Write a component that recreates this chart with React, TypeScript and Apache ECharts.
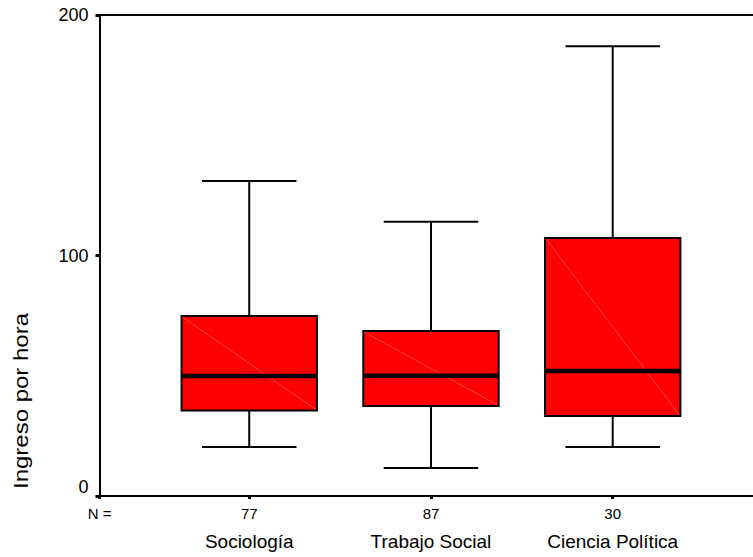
import React, { useEffect, useRef } from "react";
import * as echarts from "echarts";

const categories = ["Sociología", "Trabajo Social", "Ciencia Política"];
const counts = [77, 87, 30];
const lowWhisker = [20.4, 11.6, 20.4];
const q1 = [35.5, 37.4, 33.3];
const median = [49.9, 50.0, 52.0];
const q3 = [74.8, 68.6, 107.3];
const highWhisker = [131, 114, 187];
const yTicks = [0, 100, 200];

const X_MIN = 0.176;
const X_MAX = 3.772;
const FONT = "'Liberation Sans', Arial, Helvetica, sans-serif";

export default function App() {
  const ref = useRef<HTMLDivElement>(null);
  useEffect(() => {
    if (!ref.current) return;
    document.body.style.margin = "0";
    const chart = echarts.init(ref.current, undefined, { renderer: "svg" });
    const data = categories.map((_, i) => [i + 1, lowWhisker[i], q1[i], median[i], q3[i], highWhisker[i]]);
    const xValues = [X_MIN, 1, 2, 3];
    const xLabel = (v: number) => {
      const i = Math.round(v) - 1;
      if (Math.abs(v - X_MIN) < 0.01) return "{n|N =}";
      if (i >= 0 && i < categories.length && Math.abs(v - (i + 1)) < 0.01) {
        return `{n|${counts[i]}}\n{c|${categories[i]}}`;
      }
      return "";
    };
    const option: any = {
      animation: false,
      backgroundColor: "#ffffff",
      grid: { left: 99.5, right: 0, top: 15, bottom: 61, containLabel: false },
      xAxis: [
        {
          type: "value",
          min: X_MIN,
          max: X_MAX,
          position: "bottom",
          splitLine: { show: false },
          axisLine: { show: true, lineStyle: { color: "#000", width: 2 } },
          axisTick: {
            show: true,
            customValues: xValues,
            length: 3,
            lineStyle: { color: "#000", width: 3 },
          },
          axisLabel: {
            show: true,
            customValues: xValues,
            showMinLabel: true,
            margin: 5,
            formatter: xLabel,
            rich: {
              n: { fontSize: 15, fontFamily: FONT, color: "#000", lineHeight: 24 },
              c: { fontSize: 19, fontFamily: FONT, color: "#000", lineHeight: 33 },
            },
          },
        },
        {
          type: "value",
          min: X_MIN,
          max: X_MAX,
          position: "top",
          splitLine: { show: false },
          axisLine: { show: true, lineStyle: { color: "#000", width: 2 } },
          axisTick: { show: false },
          axisLabel: { show: false },
        },
      ],
      yAxis: {
        type: "value",
        min: 0,
        max: 200,
        interval: 100,
        splitLine: { show: false },
        axisLine: { show: true, lineStyle: { color: "#000", width: 2 } },
        axisTick: { show: true, length: 4, lineStyle: { color: "#000", width: 3 } },
        axisLabel: {
          show: true,
          margin: 11,
          formatter: (v: number) => (yTicks.indexOf(v) === 0 ? `{z|${v}}` : `{t|${v}}`),
          rich: {
            t: { fontSize: 18, fontFamily: FONT, color: "#000" },
            z: { fontSize: 18, fontFamily: FONT, color: "#000", padding: [0, 0, 18, 0] },
          },
        },
      },
      graphic: [
        {
          type: "text",
          x: 21,
          y: 401,
          rotation: Math.PI / 2,
          scaleX: 1.2,
          style: {
            text: "Ingreso por hora",
            fontSize: 20,
            fontFamily: FONT,
            fill: "#000",
            align: "center",
            verticalAlign: "middle",
          },
        },
      ],
      series: [
        {
          type: "custom",
          xAxisIndex: 0,
          yAxisIndex: 0,
          data,
          renderItem: (params: any, api: any) => {
            const x = api.value(0);
            const unit = api.size([1, 0])[0];
            const bw = unit * 0.745;
            const cw = unit * 0.52;
            const pLow = api.coord([x, api.value(1)]);
            const pQ1 = api.coord([x, api.value(2)]);
            const pMed = api.coord([x, api.value(3)]);
            const pQ3 = api.coord([x, api.value(4)]);
            const pHigh = api.coord([x, api.value(5)]);
            const cx = pMed[0];
            const lineStyle = { stroke: "#000", lineWidth: 2 };
            return {
              type: "group",
              children: [
                { type: "line", shape: { x1: cx, y1: pQ3[1], x2: cx, y2: pHigh[1] }, style: lineStyle },
                { type: "line", shape: { x1: cx, y1: pQ1[1], x2: cx, y2: pLow[1] }, style: lineStyle },
                { type: "line", shape: { x1: cx - cw / 2, y1: pHigh[1], x2: cx + cw / 2, y2: pHigh[1] }, style: lineStyle },
                { type: "line", shape: { x1: cx - cw / 2, y1: pLow[1], x2: cx + cw / 2, y2: pLow[1] }, style: lineStyle },
                {
                  type: "rect",
                  shape: { x: cx - bw / 2, y: pQ3[1], width: bw, height: pQ1[1] - pQ3[1] },
                  style: { fill: "#ff0000", stroke: "#000", lineWidth: 2 },
                },
                {
                  type: "line",
                  shape: { x1: cx - bw / 2 + 1, y1: pQ3[1] + 1, x2: cx + bw / 2 - 1, y2: pQ1[1] - 1 },
                  style: { stroke: "#ff7070", lineWidth: 0.6 },
                },
                {
                  type: "line",
                  shape: { x1: cx - bw / 2, y1: pMed[1], x2: cx + bw / 2, y2: pMed[1] },
                  style: { stroke: "#000", lineWidth: 4.5 },
                },
              ],
            };
          },
        },
      ],
    };
    chart.setOption(option);
    return () => chart.dispose();
  }, []);
  return <div ref={ref} style={{ width: 753, height: 557 }} />;
}
